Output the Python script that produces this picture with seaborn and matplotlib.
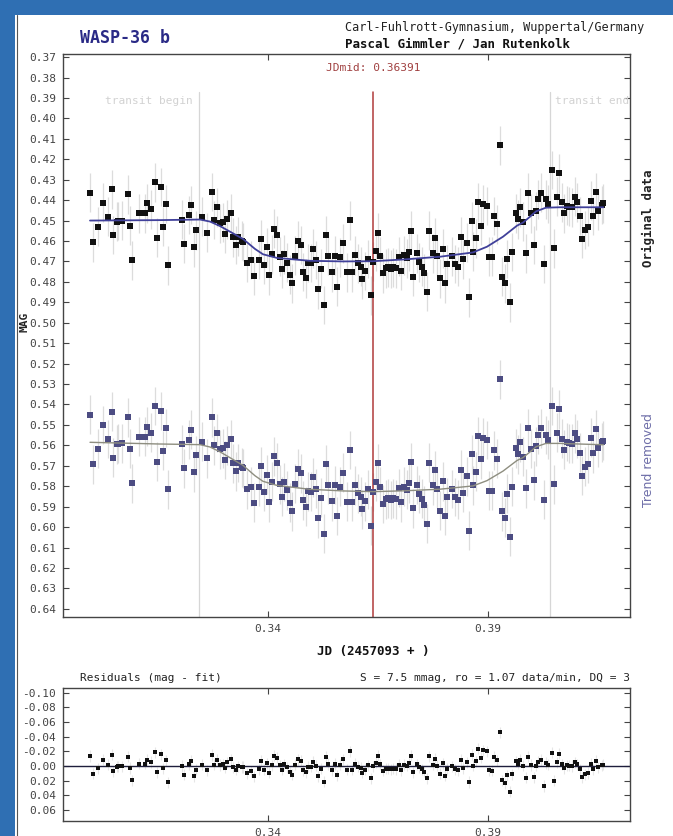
import numpy as np
import pandas as pd
import matplotlib
matplotlib.use("Agg")
import matplotlib.pyplot as plt
from matplotlib.patches import Rectangle
from matplotlib.lines import Line2D
from matplotlib.ticker import FormatStrFormatter
import seaborn as sns

jd = [0.29955, 0.3003, 0.30143, 0.30257, 0.3037, 0.30448, 0.30484, 0.30561, 0.30598, 0.30675,
      0.30811, 0.30864, 0.30916, 0.31075, 0.31205, 0.31257, 0.31334, 0.31432, 0.31484, 0.31575,
      0.3162, 0.31682, 0.31727, 0.32039, 0.32091, 0.32198, 0.32257, 0.32325, 0.3237, 0.325,
      0.32607, 0.32734, 0.32773,
      0.32848, 0.32909, 0.3297, 0.33023, 0.33075, 0.33152, 0.33198, 0.33273, 0.33325, 0.33402,
      0.33439, 0.33516, 0.3362, 0.33675, 0.33789, 0.33841, 0.33909, 0.33984, 0.3403, 0.34091,
      0.34143, 0.34205, 0.34273, 0.34318, 0.34364, 0.34439, 0.34493, 0.34552, 0.34614, 0.34682,
      0.34743, 0.34795, 0.34857, 0.34909, 0.34977, 0.3503, 0.35091, 0.35143, 0.35205, 0.35266,
      0.35318, 0.3537, 0.35448, 0.35523, 0.35561, 0.35636, 0.35711,
      0.35789, 0.35864, 0.35902, 0.35977, 0.36052, 0.36107, 0.36143, 0.36205, 0.3628, 0.36334,
      0.3638, 0.36448, 0.36493, 0.36545, 0.36607, 0.36675, 0.36734, 0.36789, 0.36848, 0.36909,
      0.3697, 0.37023, 0.37084, 0.37152, 0.37205, 0.3725, 0.37302, 0.3738, 0.37439, 0.375,
      0.37552, 0.37607, 0.37659, 0.37743, 0.37795, 0.37848, 0.37909, 0.3797, 0.3803, 0.38075,
      0.38175, 0.3825, 0.38311, 0.3838, 0.38439, 0.38516, 0.38575, 0.3863, 0.38666,
      0.38727, 0.3878, 0.38841, 0.38893, 0.38984, 0.3903, 0.39098, 0.39143, 0.39198, 0.39273,
      0.39311, 0.39386, 0.39439, 0.395, 0.39552, 0.3963, 0.39675, 0.39727, 0.39802, 0.39857,
      0.39916, 0.3997, 0.40045, 0.40091, 0.40143, 0.40205, 0.40266, 0.40318, 0.4037, 0.40455,
      0.40507, 0.40561, 0.40614, 0.40675, 0.40734, 0.40789, 0.40848, 0.40902, 0.40977, 0.4103,
      0.41091, 0.41143, 0.41205, 0.41266, 0.41334, 0.41393, 0.41448, 0.41507, 0.41584, 0.4162]

mag = [0.4364, 0.4607, 0.4530, 0.4413, 0.4481, 0.4347, 0.4571, 0.4506, 0.4502, 0.4501,
       0.4372, 0.4525, 0.4695, 0.4465, 0.4465, 0.4416, 0.4444, 0.4313, 0.4584, 0.4336,
       0.4530, 0.4419, 0.4719, 0.4496, 0.4613, 0.4473, 0.4424, 0.4631, 0.4548, 0.4481,
       0.4560, 0.4360, 0.4497,
       0.4435, 0.4514, 0.4509, 0.4566, 0.4494, 0.4465, 0.4582, 0.4620, 0.4579, 0.4599,
       0.4605, 0.4706, 0.4693, 0.4771, 0.4693, 0.4590, 0.4716, 0.4631, 0.4767, 0.4665,
       0.4540, 0.4571, 0.4677, 0.4737, 0.4665, 0.4706, 0.4765, 0.4807, 0.4672, 0.4599,
       0.4620, 0.4752, 0.4783, 0.4708, 0.4708, 0.4638, 0.4693, 0.4837, 0.4736, 0.4913,
       0.4571, 0.4672, 0.4753, 0.4672, 0.4824, 0.4680, 0.4611,
       0.4753, 0.4499, 0.4753, 0.4670, 0.4709, 0.4726, 0.4788, 0.4747, 0.4688, 0.4866,
       0.4701, 0.4651, 0.4560, 0.4674, 0.4758, 0.4734, 0.4729, 0.4737, 0.4729, 0.4734,
       0.4677, 0.4746, 0.4670, 0.4685, 0.4653, 0.4550, 0.4775, 0.4660, 0.4704, 0.4726,
       0.4758, 0.4848, 0.4550, 0.4660, 0.4584, 0.4674, 0.4783, 0.4638, 0.4807, 0.4714,
       0.4674, 0.4713, 0.4726, 0.4579, 0.4690, 0.4609, 0.4876, 0.4502, 0.4653,
       0.4587, 0.4411, 0.4525, 0.4419, 0.4429, 0.4677, 0.4677, 0.4478, 0.4519, 0.4131,
       0.4775, 0.4807, 0.4688, 0.4900, 0.4654, 0.4465, 0.4494, 0.4435, 0.4506, 0.4660,
       0.4364, 0.4465, 0.4620, 0.4453, 0.4396, 0.4364, 0.4713, 0.4396, 0.4419, 0.4253,
       0.4636, 0.4383, 0.4269, 0.4411, 0.4465, 0.4427, 0.4432, 0.4435, 0.4383, 0.4411,
       0.4478, 0.4589, 0.4546, 0.4530, 0.4403, 0.4478, 0.4360, 0.4452, 0.4424, 0.4416]

# Transit-Fit (Stuetzstellen der Modellkurve)
fit_jd = [0.29955, 0.31500, 0.32455, 0.32682, 0.32909, 0.33432, 0.33705, 0.33886, 0.34205,
          0.34955, 0.35705, 0.36386, 0.37114, 0.37909, 0.38659, 0.38977, 0.39341, 0.39659,
          0.39795, 0.39955, 0.40091, 0.40318, 0.40636, 0.41620]
fit_mag = [0.4500, 0.4498, 0.4495, 0.4505, 0.4527, 0.4590, 0.4639, 0.4665, 0.4683,
           0.4697, 0.4700, 0.4699, 0.4690, 0.4677, 0.4656, 0.4628, 0.4579, 0.4525,
           0.4510, 0.4481, 0.4455, 0.4437, 0.4435, 0.4435]

MAG_ERR = 0.0095           # typischer Fehlerbalken
JD_MID = 0.36391
T_BEGIN = 0.3243
T_END = 0.4040
TREND_SHIFT = 0.1092       # Versatz der trendbereinigten Kurve
TREND_SLOPE = 0.066        # linearer Trend (mag / Tag)
TREND_JD0 = 0.31

jd = np.array(jd)
mag = np.array(mag)
fit_jd = np.array(fit_jd)
fit_mag = np.array(fit_mag)

# Trendbereinigung und Residuen
detrended = mag + TREND_SHIFT + TREND_SLOPE * (jd - TREND_JD0)
fit_detrended = fit_mag + TREND_SHIFT + TREND_SLOPE * (fit_jd - TREND_JD0)
resid = mag - np.interp(jd, fit_jd, fit_mag)

df = pd.DataFrame({"jd": jd, "mag": mag, "detr": detrended, "resid": resid})
df_fit = pd.DataFrame({"jd": fit_jd, "mag": fit_mag, "detr": fit_detrended})

sns.set_theme(style="ticks")
plt.rcParams["font.family"] = ["DejaVu Sans Mono", "DejaVu Sans"]
plt.rcParams["axes.unicode_minus"] = False

W, H = 673, 836
fig = plt.figure(figsize=(W / 100, H / 100), dpi=100)
fig.patch.set_facecolor("white")

# blauer Seitenrahmen
fig.patches.append(Rectangle((0, 0), 15 / W, 1, transform=fig.transFigure,
                             facecolor="#2f6fb3", edgecolor="none", zorder=0))
fig.patches.append(Rectangle((0, 1 - 15 / H), 1, 15 / H, transform=fig.transFigure,
                             facecolor="#2f6fb3", edgecolor="none", zorder=0))
fig.lines.append(Line2D([16.5 / W, 16.5 / W], [0, 1 - 15 / H], transform=fig.transFigure,
                        color="#555555", lw=0.8))

ax = fig.add_axes([63 / W, (H - 617) / H, 567 / W, 563 / H])
ax2 = fig.add_axes([63 / W, (H - 821) / H, 567 / W, 133 / H])

XLIM = (0.29341, 0.42227)

# --- Hauptgrafik ---
ax.errorbar(df["jd"], df["mag"], yerr=MAG_ERR, fmt="none", ecolor="#dcdcdc",
            elinewidth=0.9, zorder=1)
ax.errorbar(df["jd"], df["detr"], yerr=MAG_ERR, fmt="none", ecolor="#dcdcdc",
            elinewidth=0.9, zorder=1)
sns.scatterplot(data=df, x="jd", y="mag", ax=ax, marker="s", s=14, color="#111111",
                linewidth=0, zorder=3)
sns.scatterplot(data=df, x="jd", y="detr", ax=ax, marker="s", s=14, color="#4c4c82",
                linewidth=0, zorder=3)
sns.lineplot(data=df_fit, x="jd", y="mag", ax=ax, color="#40409a", lw=1.3,
             estimator=None, zorder=4)
sns.lineplot(data=df_fit, x="jd", y="detr", ax=ax, color="#8e8e80", lw=1.0,
             estimator=None, zorder=4)

top_frac = 0.9325
ax.axvline(T_BEGIN, ymax=top_frac, color="#d6d6d6", lw=0.9, zorder=0)
ax.axvline(T_END, ymax=top_frac, color="#d6d6d6", lw=0.9, zorder=0)
ax.axvline(JD_MID, ymax=top_frac, color="#b03a3a", lw=1.1, zorder=2)

ax.text(T_BEGIN - 0.0014, 0.3915, "transit begin", color="#d2d2d2", fontsize=8,
        ha="right", va="center")
ax.text(T_END + 0.0012, 0.3915, "transit end", color="#d2d2d2", fontsize=8,
        ha="left", va="center", clip_on=True)
ax.text(JD_MID, 0.3754, "JDmid: 0.36391", color="#a04040", fontsize=8,
        ha="center", va="center")

ax.set_xlim(*XLIM)
ax.set_ylim(0.644, 0.3685)
ax.set_yticks(np.round(np.arange(0.37, 0.6401, 0.01), 2))
ax.yaxis.set_major_formatter(FormatStrFormatter("%.2f"))
ax.set_xticks([0.34, 0.39])
ax.xaxis.set_major_formatter(FormatStrFormatter("%.2f"))
ax.set_xlabel("")
ax.set_ylabel("")

# --- Residuen ---
ax2.errorbar(df["jd"], df["resid"], yerr=MAG_ERR * 0.8, fmt="none", ecolor="#e6e6e6",
             elinewidth=0.8, zorder=1)
ax2.axhline(0, color="#1e1e3c", lw=1.0, zorder=2)
sns.scatterplot(data=df, x="jd", y="resid", ax=ax2, marker="s", s=7, color="#111111",
                linewidth=0, zorder=3)
ax2.set_xlim(*XLIM)
ax2.set_ylim(0.075, -0.1064)
ax2.set_yticks(np.round(np.arange(-0.10, 0.061, 0.02), 2) + 0.0)
ax2.yaxis.set_major_formatter(FormatStrFormatter("%.2f"))
ax2.set_xticks([0.34, 0.39])
ax2.xaxis.set_major_formatter(FormatStrFormatter("%.2f"))
ax2.set_xlabel("")
ax2.set_ylabel("")

for a in (ax, ax2):
    for sp in a.spines.values():
        sp.set_color("#444444")
        sp.set_linewidth(1.0)
    a.tick_params(axis="both", direction="in", length=4, width=0.8, color="#444444",
                  labelsize=8, labelcolor="#444444", pad=5,
                  left=True, right=True, top=True, bottom=True)

# --- Texte ---
fig.text(80 / W, 1 - 38 / H, "WASP-36 b", color="#2a2a86", fontsize=12,
         fontweight="bold", ha="left", va="center")
fig.text(345 / W, 1 - 28 / H, "Carl-Fuhlrott-Gymnasium, Wuppertal/Germany",
         color="#222222", fontsize=8.5, ha="left", va="center")
fig.text(345 / W, 1 - 44 / H, "Pascal Gimmler / Jan Rutenkolk", color="#111111",
         fontsize=9, fontweight="bold", ha="left", va="center")
fig.text(25 / W, 1 - 322 / H, "MAG", color="#222222", fontsize=8, fontweight="bold",
         rotation=90, ha="center", va="center")
fig.text(648 / W, 1 - 218 / H, "Original data", color="#222222", fontsize=9,
         fontweight="bold", rotation=90, ha="center", va="center")
fig.text(648 / W, 1 - 460 / H, "Trend removed", color="#6e6ea8", fontsize=9,
         family="DejaVu Sans", rotation=90, ha="center", va="center")
fig.text(373 / W, 1 - 652 / H, "JD (2457093 + )", color="#111111", fontsize=9,
         fontweight="bold", ha="center", va="center")
fig.text(80 / W, 1 - 678 / H, "Residuals (mag - fit)", color="#222222", fontsize=8,
         ha="left", va="center")
fig.text(630 / W, 1 - 678 / H, "S = 7.5 mmag, ro = 1.07 data/min, DQ = 3",
         color="#222222", fontsize=8, ha="right", va="center")

fig.savefig("out.png", dpi=100)
